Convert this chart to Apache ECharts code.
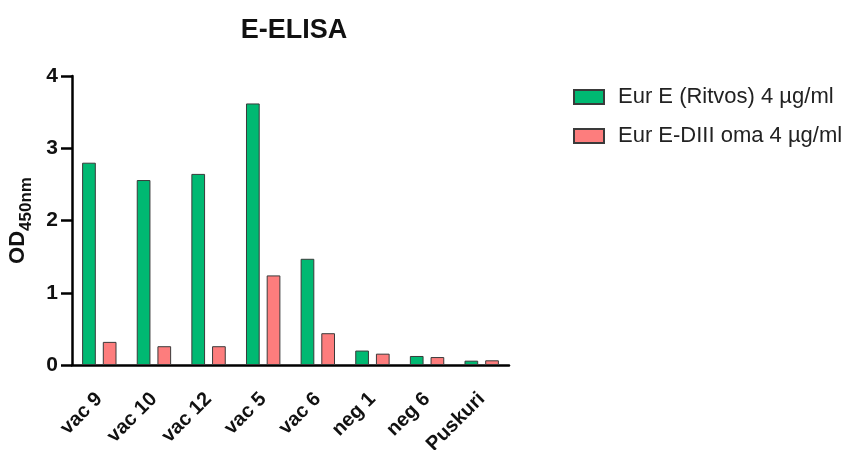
<!DOCTYPE html>
<html>
<head>
<meta charset="utf-8">
<script src="https://cdn.jsdelivr.net/npm/echarts@6/dist/echarts.min.js"></script>
<style>
  html, body { margin: 0; padding: 0; background: #fff; }
  #chart { width: 864px; height: 450px; }
</style>
</head>
<body>
<div id="chart"></div>
<script>
// Sample names along the x axis
const samples = ['vac 9', 'vac 10', 'vac 12', 'vac 5', 'vac 6', 'neg 1', 'neg 6', 'Puskuri'];
// OD450nm readings per coating antigen
const eurE = [2.80, 2.56, 2.645, 3.62, 1.47, 0.20, 0.125, 0.06];
const eurEDIII = [0.32, 0.26, 0.26, 1.24, 0.44, 0.157, 0.11, 0.065];
const seriesNames = ['Eur E (Ritvos) 4 µg/ml', 'Eur E-DIII oma 4 µg/ml'];
const yTicks = [0, 1, 2, 3, 4];

const FONT = 'Liberation Sans, Arial, Helvetica, sans-serif';
const chart = echarts.init(document.getElementById('chart'), null, { renderer: 'canvas' });

chart.setOption({
  animation: false,
  backgroundColor: '#ffffff',
  title: {
    text: 'E-ELISA',
    left: 289,
    textAlign: 'center',
    top: 12,
    textStyle: { fontFamily: FONT, fontSize: 27, fontWeight: 'bold', color: '#111' }
  },
  legend: {
    orient: 'vertical',
    left: 568,
    top: 81,
    itemWidth: 30,
    itemHeight: 14,
    itemGap: 17,
    icon: 'rect',
    data: seriesNames,
    textStyle: { fontFamily: FONT, fontSize: 22, color: '#222', padding: [0, 0, 0, 9] }
  },
  grid: {
    left: 72, width: 437, top: 76, height: 289,
    containLabel: false,
    outerBoundsMode: 'none'
  },
  xAxis: {
    type: 'category',
    data: samples,
    axisLine: { lineStyle: { color: '#000', width: 2.5 } },
    axisTick: { alignWithLabel: true, length: 12, lineStyle: { color: '#000', width: 3 } },
    axisLabel: {
      rotate: 45,
      margin: 31,
      fontFamily: FONT,
      fontSize: 20,
      fontWeight: 'bold',
      color: '#111'
    }
  },
  yAxis: {
    type: 'value',
    min: 0,
    max: 4,
    interval: 1,
    name: '{a|OD}{b|450nm}',
    nameLocation: 'middle',
    nameRotate: 90,
    nameGap: 37,
    nameTextStyle: {
      rich: {
        a: { fontFamily: FONT, fontSize: 22, fontWeight: 'bold', color: '#111' },
        b: { fontFamily: FONT, fontSize: 17, fontWeight: 'bold', color: '#111', padding: [17, 0, 0, 0] }
      }
    },
    axisLine: { show: true, lineStyle: { color: '#000', width: 2.5 } },
    axisTick: { show: true, length: 11, lineStyle: { color: '#000', width: 2.5 } },
    splitLine: { show: false },
    axisLabel: {
      margin: 14,
      fontFamily: FONT,
      fontSize: 21,
      fontWeight: 'bold',
      color: '#111',
      formatter: v => (yTicks.includes(v) ? String(v) : '')
    }
  },
  series: [
    {
      name: seriesNames[0],
      type: 'bar',
      data: eurE,
      barWidth: 13.7,
      barGap: '51%',
      itemStyle: { color: '#00b972', borderColor: '#3a3a3a', borderWidth: 1 }
    },
    {
      name: seriesNames[1],
      type: 'bar',
      data: eurEDIII,
      barWidth: 13.7,
      barGap: '51%',
      itemStyle: { color: '#fd7d7d', borderColor: '#3a3a3a', borderWidth: 1 }
    }
  ]
});
</script>
</body>
</html>
